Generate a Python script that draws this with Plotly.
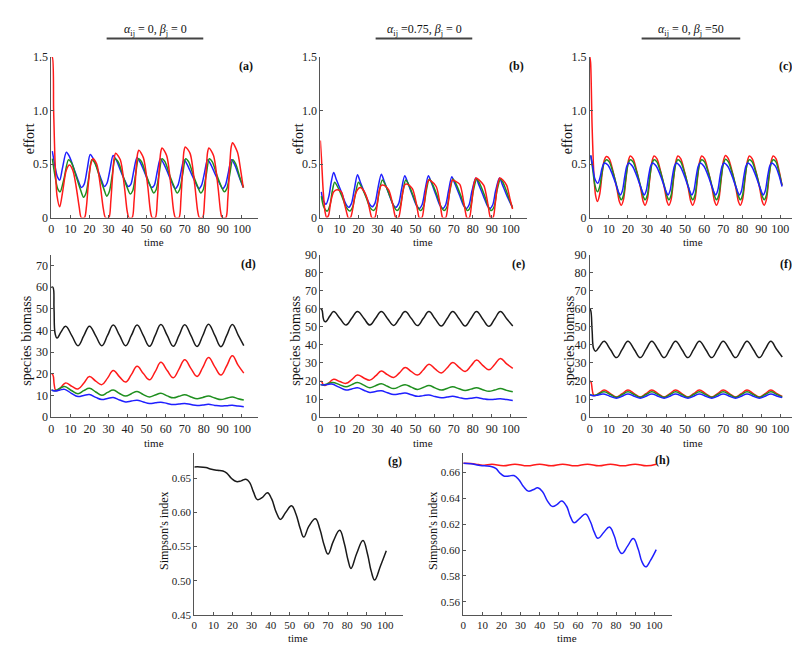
import plotly.graph_objects as go

W, H = 800, 647
FONT = "Liberation Serif, Times New Roman, serif"
RED, GREEN, BLUE, BLACK = "#ff1a1a", "#1f8f1f", "#1f1fff", "#1a1a1a"

# ---------------- panel (a) effort, alpha=0, beta=0 ----------------
a_blue_t = [0.5, 2, 3.2, 4.4, 5.8, 7.9,
            9.5, 12, 14.2, 15.8, 17.2, 18.8, 20.4,
            22, 24.5, 26.5, 27.8, 29.2, 30.8, 32.4,
            34, 36.5, 38.7, 40.3, 41.7, 43.3, 44.9,
            46.5, 49, 51, 52.6, 54, 55.6, 57.2,
            58.8, 61.3, 63.4, 65, 66.4, 68, 69.6,
            71.2, 73.7, 75.8, 77.4, 78.8, 80.4, 82,
            83.6, 86.1, 88.3, 89.9, 91.3, 92.9, 94.5,
            96.1, 98.6, 100.7]
a_blue_v = [0.62, 0.47, 0.38, 0.35, 0.46, 0.61,
            0.57, 0.45, 0.34, 0.28, 0.31, 0.45, 0.59,
            0.55, 0.44, 0.34, 0.29, 0.32, 0.45, 0.58,
            0.54, 0.43, 0.34, 0.29, 0.31, 0.44, 0.56,
            0.52, 0.42, 0.33, 0.28, 0.30, 0.43, 0.55,
            0.51, 0.41, 0.32, 0.27, 0.30, 0.42, 0.54,
            0.50, 0.40, 0.32, 0.27, 0.30, 0.42, 0.54,
            0.50, 0.40, 0.32, 0.27, 0.30, 0.42, 0.54,
            0.50, 0.38, 0.28]
a_green_t = [0.5, 2, 3.3, 4.6, 6.6, 9.0,
             10.6, 13.1, 15.3, 16.9, 18.2, 19.7, 21.2,
             22.8, 25.3, 27.5, 29.1, 30.4, 31.9, 33.5,
             35.1, 37.6, 39.8, 41.4, 42.7, 44.2, 45.8,
             47.4, 49.9, 52.1, 53.7, 55.0, 56.5, 58.1,
             59.7, 62.2, 64.4, 66.0, 67.3, 68.9, 70.5,
             72.1, 74.6, 76.8, 78.4, 79.7, 81.3, 82.9,
             84.5, 87.0, 89.2, 90.8, 92.1, 93.6, 95.2,
             96.8, 99.0, 100.9]
a_green_v = [0.55, 0.38, 0.27, 0.24, 0.36, 0.54,
             0.51, 0.38, 0.26, 0.19, 0.23, 0.38, 0.54,
             0.51, 0.38, 0.27, 0.20, 0.24, 0.39, 0.55,
             0.52, 0.39, 0.28, 0.22, 0.25, 0.40, 0.55,
             0.52, 0.39, 0.29, 0.23, 0.26, 0.40, 0.55,
             0.52, 0.39, 0.29, 0.23, 0.26, 0.40, 0.55,
             0.52, 0.39, 0.29, 0.23, 0.26, 0.40, 0.55,
             0.52, 0.39, 0.29, 0.24, 0.27, 0.40, 0.54,
             0.50, 0.37, 0.28]
a_red_t = [0, 0.5, 1.2, 2.0, 3.0, 4.4, 6.0, 7.8, 9.5, 11.3, 13.0, 14.6, 15.7,
           17.4, 18.4, 19.3, 20.5, 21.8, 23.8, 25.7, 27.3, 28.4,
           30.2, 31.2, 32.1, 33.0, 33.8, 36.2, 38.4, 39.8, 40.7,
           42.4, 43.4, 44.3, 45.2, 45.9, 48.3, 50.6, 52.0, 52.9,
           54.6, 55.6, 56.5, 57.4, 58.1, 60.5, 62.8, 64.2, 65.1,
           67.0, 68.0, 68.8, 69.6, 70.3, 72.8, 75.3, 76.8, 77.7,
           79.4, 80.4, 81.2, 82.0, 82.7, 85.1, 87.5, 88.8, 89.6,
           91.6, 92.6, 93.5, 94.4, 95.1, 97.7, 99.3, 100.7]
a_red_v = [1.5, 1.5, 1.0, 0.5, 0.2, 0.1, 0.25, 0.44, 0.49, 0.44, 0.29, 0.1, 0.0,
           0.0, 0.1, 0.29, 0.48, 0.55, 0.50, 0.30, 0.08, 0.0,
           0.0, 0.15, 0.38, 0.56, 0.60, 0.54, 0.28, 0.06, 0.0,
           0.0, 0.15, 0.40, 0.59, 0.63, 0.56, 0.29, 0.06, 0.0,
           0.0, 0.16, 0.42, 0.61, 0.65, 0.58, 0.29, 0.06, 0.0,
           0.0, 0.17, 0.42, 0.62, 0.66, 0.60, 0.30, 0.06, 0.0,
           0.0, 0.16, 0.42, 0.61, 0.65, 0.58, 0.28, 0.06, 0.0,
           0.0, 0.17, 0.45, 0.66, 0.70, 0.61, 0.45, 0.28]

# ---------------- panel (b) effort, alpha=0.75, beta=0 ----------------
b_blue_t = [0.5, 1.5, 3.0, 4.5, 5.7, 7.0, 8.5, 11.0, 13.3, 14.8, 16.3, 17.8, 19.5,
            21.0, 23.5, 25.7, 27.2, 28.7, 30.2, 32.0, 33.5, 36.0, 38.2, 39.6, 41.1, 42.6, 44.3,
            45.8, 48.3, 50.5, 51.9, 53.4, 54.9, 56.7, 58.2, 60.7, 62.9, 64.3, 65.8, 67.3, 69.0,
            70.5, 73.0, 75.2, 76.6, 78.1, 79.6, 81.6, 83.1, 85.6, 87.7, 89.0, 90.5, 92.0, 94.0,
            95.5, 98.0, 100.7]
b_blue_v = [0.24, 0.16, 0.125, 0.20, 0.33, 0.42, 0.35, 0.24, 0.13, 0.095, 0.13, 0.26, 0.40,
            0.33, 0.22, 0.13, 0.10, 0.135, 0.27, 0.405, 0.34, 0.22, 0.12, 0.095, 0.13, 0.26, 0.39,
            0.33, 0.21, 0.11, 0.085, 0.12, 0.25, 0.39, 0.33, 0.21, 0.11, 0.085, 0.12, 0.25, 0.38,
            0.32, 0.21, 0.11, 0.085, 0.12, 0.25, 0.37, 0.31, 0.20, 0.11, 0.085, 0.12, 0.25, 0.37,
            0.31, 0.20, 0.10]
b_green_t = [0.5, 1.8, 3.6, 5.1, 6.3, 7.5, 9.0, 11.5, 13.8, 15.5, 17.0, 18.5, 20.0,
             21.5, 24.0, 26.2, 27.9, 29.4, 30.9, 32.5, 34.0, 36.5, 38.7, 40.3, 41.8, 43.3, 44.8,
             46.3, 48.8, 51.0, 52.6, 54.1, 55.6, 57.2, 58.7, 61.2, 63.4, 65.0, 66.5, 68.0, 69.6,
             71.1, 73.6, 75.8, 77.3, 78.8, 80.3, 82.1, 83.6, 86.1, 88.2, 89.7, 91.2, 92.7, 94.6,
             96.1, 98.6, 100.9]
b_green_v = [0.20, 0.10, 0.06, 0.12, 0.25, 0.33, 0.29, 0.19, 0.09, 0.06, 0.10, 0.23, 0.33,
             0.29, 0.19, 0.09, 0.065, 0.10, 0.24, 0.35, 0.31, 0.20, 0.10, 0.065, 0.10, 0.24, 0.35,
             0.31, 0.20, 0.10, 0.065, 0.10, 0.25, 0.36, 0.32, 0.21, 0.10, 0.065, 0.10, 0.25, 0.36,
             0.32, 0.21, 0.10, 0.065, 0.10, 0.25, 0.36, 0.32, 0.21, 0.10, 0.065, 0.10, 0.25, 0.36,
             0.32, 0.20, 0.09]
b_red_t = [0, 0.6, 1.5, 2.5, 3.3, 4.3, 5.5, 7.0, 8.7, 11.0, 12.8, 14.2, 14.6, 15.8,
           17.0, 18.0, 19.5, 21.0, 22.8, 24.7, 26.2, 27.0, 28.6,
           29.7, 30.8, 32.0, 33.5, 35.8, 37.8, 39.0, 39.6, 41.0,
           42.2, 43.4, 44.5, 45.8, 48.3, 50.3, 51.4, 51.9, 53.3,
           54.5, 55.7, 56.8, 58.2, 60.8, 62.7, 63.7, 64.2, 65.8,
           67.0, 68.2, 69.3, 70.8, 73.2, 75.2, 76.4, 76.9, 78.2,
           79.4, 80.6, 81.7, 83.4, 85.8, 87.8, 88.8, 89.3, 90.6,
           91.8, 93.0, 94.2, 95.8, 97.8, 99.6, 100.9]
b_red_v = [0.72, 0.55, 0.25, 0.05, 0.0, 0.02, 0.15, 0.24, 0.26, 0.24, 0.12, 0.02, 0.0, 0.0,
           0.08, 0.19, 0.26, 0.28, 0.25, 0.17, 0.05, 0.0, 0.0,
           0.10, 0.24, 0.30, 0.30, 0.26, 0.14, 0.03, 0.0, 0.0,
           0.10, 0.25, 0.31, 0.31, 0.27, 0.14, 0.03, 0.0, 0.0,
           0.12, 0.29, 0.35, 0.34, 0.29, 0.14, 0.03, 0.0, 0.0,
           0.12, 0.28, 0.35, 0.34, 0.31, 0.15, 0.03, 0.0, 0.0,
           0.13, 0.31, 0.37, 0.35, 0.30, 0.14, 0.03, 0.0, 0.0,
           0.13, 0.30, 0.37, 0.35, 0.30, 0.17, 0.08]

# ---------------- panel (c) effort, alpha=0, beta=50 ----------------
c_red_t = [0, 0.4, 1.2, 2.2, 3.0, 4.0, 5.2, 6.4, 7.5, 8.7, 10.2, 12.2, 14.2, 15.5, 16.5,
           17.7, 18.9, 20.1, 21.2, 22.7, 24.7, 26.7, 28.0, 29.0,
           30.2, 31.4, 32.6, 33.7, 35.2, 37.2, 39.2, 40.5, 41.5,
           42.7, 43.9, 45.1, 46.2, 47.7, 49.7, 51.7, 53.0, 54.0,
           55.2, 56.4, 57.6, 58.7, 60.2, 62.2, 64.2, 65.5, 66.5,
           67.7, 68.9, 70.1, 71.2, 72.7, 74.7, 76.7, 78.0, 79.0,
           80.2, 81.4, 82.6, 83.7, 85.2, 87.2, 89.2, 90.5, 91.5,
           92.7, 93.9, 95.1, 96.2, 97.7, 99.2, 100.9]
c_red_v = [1.5, 1.45, 0.85, 0.38, 0.21, 0.15, 0.22, 0.40, 0.53, 0.57, 0.55, 0.43, 0.27, 0.15, 0.115,
           0.17, 0.35, 0.52, 0.575, 0.55, 0.43, 0.27, 0.15, 0.115,
           0.17, 0.35, 0.52, 0.575, 0.55, 0.43, 0.27, 0.15, 0.115,
           0.17, 0.35, 0.52, 0.575, 0.55, 0.43, 0.27, 0.15, 0.115,
           0.17, 0.35, 0.52, 0.575, 0.55, 0.43, 0.27, 0.15, 0.115,
           0.17, 0.35, 0.53, 0.58, 0.55, 0.43, 0.27, 0.15, 0.115,
           0.17, 0.35, 0.52, 0.575, 0.55, 0.43, 0.27, 0.15, 0.115,
           0.17, 0.35, 0.52, 0.575, 0.55, 0.45, 0.30]
c_green_t = [0.5, 1.5, 2.7, 4.0, 5.2, 6.4, 7.5, 8.7, 10.2, 12.2, 14.2, 15.5, 16.5,
             17.7, 18.9, 20.1, 21.2, 22.7, 24.7, 26.7, 28.0, 29.0,
             30.2, 31.4, 32.6, 33.7, 35.2, 37.2, 39.2, 40.5, 41.5,
             42.7, 43.9, 45.1, 46.2, 47.7, 49.7, 51.7, 53.0, 54.0,
             55.2, 56.4, 57.6, 58.7, 60.2, 62.2, 64.2, 65.5, 66.5,
             67.7, 68.9, 70.1, 71.2, 72.7, 74.7, 76.7, 78.0, 79.0,
             80.2, 81.4, 82.6, 83.7, 85.2, 87.2, 89.2, 90.5, 91.5,
             92.7, 93.9, 95.1, 96.2, 97.7, 99.2, 100.9]
c_green_v = [0.58, 0.45, 0.30, 0.24, 0.29, 0.42, 0.51, 0.54, 0.52, 0.42, 0.29, 0.20, 0.165,
             0.21, 0.37, 0.50, 0.54, 0.52, 0.42, 0.29, 0.20, 0.165,
             0.21, 0.37, 0.50, 0.54, 0.52, 0.42, 0.29, 0.20, 0.165,
             0.21, 0.37, 0.50, 0.54, 0.52, 0.42, 0.29, 0.20, 0.165,
             0.21, 0.37, 0.50, 0.54, 0.52, 0.42, 0.29, 0.20, 0.165,
             0.21, 0.37, 0.50, 0.545, 0.52, 0.42, 0.29, 0.20, 0.165,
             0.21, 0.37, 0.50, 0.54, 0.52, 0.42, 0.29, 0.20, 0.165,
             0.21, 0.37, 0.50, 0.54, 0.52, 0.43, 0.30]
c_blue_t = [0.5, 1.5, 2.7, 4.2, 5.3, 6.4, 7.6, 9.5, 11.7, 13.7, 15.0, 16.0,
            17.1, 18.3, 19.4, 20.4, 22.4, 24.4, 26.4, 27.6, 28.5,
            29.6, 30.8, 31.9, 32.9, 34.9, 36.9, 38.9, 40.1, 41.0,
            42.1, 43.3, 44.4, 45.4, 47.4, 49.4, 51.4, 52.6, 53.5,
            54.6, 55.8, 56.9, 57.9, 59.9, 61.9, 63.9, 65.1, 66.0,
            67.1, 68.3, 69.4, 70.4, 72.4, 74.4, 76.4, 77.6, 78.5,
            79.6, 80.8, 81.9, 82.9, 84.9, 86.9, 88.9, 90.1, 91.0,
            92.1, 93.3, 94.4, 95.4, 97.4, 99.2, 100.9]
c_blue_v = [0.58, 0.48, 0.36, 0.32, 0.37, 0.46, 0.51, 0.49, 0.41, 0.31, 0.24, 0.21,
            0.25, 0.38, 0.48, 0.51, 0.48, 0.40, 0.30, 0.24, 0.21,
            0.25, 0.38, 0.48, 0.51, 0.48, 0.40, 0.30, 0.24, 0.21,
            0.25, 0.38, 0.48, 0.51, 0.48, 0.40, 0.30, 0.24, 0.21,
            0.25, 0.38, 0.48, 0.51, 0.48, 0.40, 0.30, 0.24, 0.21,
            0.25, 0.38, 0.48, 0.51, 0.48, 0.40, 0.30, 0.24, 0.21,
            0.25, 0.38, 0.48, 0.51, 0.48, 0.40, 0.30, 0.24, 0.21,
            0.25, 0.38, 0.48, 0.51, 0.48, 0.40, 0.29]

# ---------------- panel (d) biomass, alpha=0, beta=0 ----------------
d_black_t = [0, 0.8, 1.4, 2.0, 3.0, 5.2, 7.5, 10.8, 14, 17, 20, 23.3, 26.5, 29.5, 32.5, 35.8, 39,
             42, 45, 48.3, 51.5, 54.5, 57.5, 60.8, 64, 67, 70, 73.3, 76.5, 79.5, 82.5, 85.8, 89,
             92, 95, 98, 101]
d_black_v = [60, 60, 50, 38.5, 36.5, 39.5, 42, 37.5, 33, 37.5, 42, 37.5, 33, 37.7, 42.5, 37.7, 33,
             37.7, 42.5, 37.6, 32.7, 37.7, 42.8, 37.7, 32.7, 37.7, 42.7, 37.6, 32.6, 37.7, 42.9, 37.7, 32.5,
             37.6, 42.8, 38, 33]
d_red_t = [0, 0.8, 1.5, 2.2, 3.2, 5.3, 7.5, 10.8, 14, 17, 20, 23.3, 26.5, 29.5, 32.5, 35.8, 39,
           42, 45, 48.3, 51.5, 54.5, 57.5, 60.8, 64, 67, 70, 73.3, 76.5, 79.5, 82.5, 85.8, 89,
           92, 95, 98, 101]
d_red_v = [20, 19.5, 15, 12.5, 12.3, 14, 15.8, 14.2, 13, 15.6, 18.7, 16.6, 15, 18, 21.5, 18.6, 16.2,
           19.6, 23.5, 20.1, 17.2, 21, 25.3, 21.5, 18.2, 22.2, 26.5, 22.4, 18.8, 23, 27.5, 23.2, 19.4,
           23.6, 28.3, 24, 20.3]
d_green_t = [0, 2, 4.5, 7, 10.5, 14, 17, 20, 23.3, 26.5, 29.5, 32.5, 35.8, 39, 42, 45, 48.3, 51.5,
             54.5, 57.5, 60.8, 64, 67, 70, 73.3, 76.5, 79.5, 82.5, 85.8, 89, 92, 95, 98, 101]
d_green_v = [12.5, 12.2, 13.3, 14.1, 12.3, 10.8, 12.2, 13.3, 11.6, 10.1, 11.4, 12.5, 10.9, 9.7, 10.8, 11.8, 10.4, 9.3,
             10.2, 11, 9.8, 8.9, 9.6, 10.3, 9.3, 8.5, 9.1, 9.7, 8.8, 8.1, 8.7, 9.3, 8.5, 7.9]
d_blue_t = [0, 2, 4.5, 7, 10.5, 14, 17, 20, 23.3, 26.5, 29.5, 32.5, 35.8, 39, 42, 45, 48.3, 51.5,
            54.5, 57.5, 60.8, 64, 67, 70, 73.3, 76.5, 79.5, 82.5, 85.8, 89, 92, 95, 98, 101]
d_blue_v = [12.5, 12.0, 12.5, 12.8, 11.0, 9.5, 10.0, 10.4, 9.1, 8.1, 8.6, 9.0, 7.9, 7.0, 7.4, 7.8, 7.0, 6.3,
            6.6, 6.9, 6.3, 5.8, 6.0, 6.3, 5.8, 5.4, 5.6, 5.9, 5.4, 5.1, 5.3, 5.5, 5.1, 4.8]

# ---------------- panel (e) biomass, alpha=0.75, beta=0 ----------------
e_black_t = [0, 0.8, 1.5, 2.2, 3.0, 5.0, 7, 10.2, 13.5, 16.5, 19.5, 22.8, 26, 29, 32, 35.2, 38.5,
             41.5, 44.5, 47.8, 51, 54, 57, 60.2, 63.5, 66.5, 69.5, 72.8, 76, 79, 82, 85.2, 88.5,
             91.5, 94.5, 97.8, 101]
e_black_v = [60, 59.5, 55, 53, 53, 56, 58.5, 54.8, 51, 54.8, 58.5, 54.8, 51, 54.8, 58.5, 54.7, 50.8,
             54.6, 58.5, 54.6, 50.7, 54.6, 58.5, 54.5, 50.5, 54.5, 58.5, 54.5, 50.5, 54.5, 58.5, 54.4, 50.3,
             54.4, 58.5, 54.5, 50.5]
e_red_t = [0, 0.8, 1.5, 2.5, 4.5, 7, 10.2, 13.5, 16.5, 19.5, 22.8, 26, 29, 32, 35.2, 38.5,
           41.5, 44.5, 47.8, 51, 54, 57, 60.2, 63.5, 66.5, 69.5, 72.8, 76, 79, 82, 85.2, 88.5,
           91.5, 94.5, 97.8, 101]
e_red_v = [20, 19.5, 18, 17.5, 19, 21, 19.7, 18.7, 20.8, 23.3, 21.7, 20.5, 22.8, 25.5, 23.5, 22,
           24.5, 27.5, 25.2, 23.3, 26.1, 29.3, 26.7, 24.5, 27.2, 30.3, 27.6, 25.3, 28.3, 31.6, 28.7, 26.2,
           29.2, 32.5, 29.5, 27]
e_green_t = [0, 1.5, 3.5, 6.5, 10, 13.5, 16.5, 19.5, 22.8, 26, 29, 32, 35.2, 38.5, 41.5, 44.5, 47.8, 51,
             54, 57, 60.2, 63.5, 66.5, 69.5, 72.8, 76, 79, 82, 85.2, 88.5, 91.5, 94.5, 97.8, 101]
e_green_v = [18, 17.8, 18.4, 19.2, 18.0, 16.8, 18.0, 19.2, 17.7, 16.3, 17.4, 18.5, 17.1, 15.8, 16.9, 18, 16.6, 15.3,
             16.4, 17.5, 16.2, 15, 15.9, 16.8, 15.7, 14.8, 15.5, 16.3, 15.2, 14.3, 15.0, 15.8, 14.8, 14]
e_blue_t = [0, 1.5, 3.5, 6, 9.8, 13.5, 16.5, 19.5, 22.8, 26, 29, 32, 35.2, 38.5, 41.5, 44.5, 47.8, 51,
            54, 57, 60.2, 63.5, 66.5, 69.5, 72.8, 76, 79, 82, 85.2, 88.5, 91.5, 94.5, 97.8, 101]
e_blue_v = [18, 17.8, 18.0, 18.3, 16.6, 15, 15.6, 16.2, 14.9, 13.7, 14.2, 14.6, 13.5, 12.5, 12.9, 13.3, 12.4, 11.5,
            11.9, 12.2, 11.4, 10.7, 11.1, 11.5, 10.8, 10.2, 10.5, 10.8, 10.2, 9.7, 9.9, 10.2, 9.7, 9.2]

# ---------------- panel (f) biomass, alpha=0, beta=50 ----------------
f_black_t = [0, 0.5, 1.2, 2.0, 3.0, 5.2, 7.5, 10.8, 14, 17, 20, 23.3, 26.5, 29.5, 32.5, 35.8, 39,
             42, 45, 48.3, 51.5, 54.5, 57.5, 60.8, 64, 67, 70, 73.3, 76.5, 79.5, 82.5, 85.8, 89,
             92, 95, 98, 101]
f_black_v = [60, 59, 48, 38, 36.5, 39.3, 42, 37.5, 33, 37.5, 42, 37.5, 33, 37.5, 42, 37.5, 33,
             37.5, 42, 37.5, 33, 37.5, 42, 37.5, 33, 37.5, 42, 37.5, 33, 37.5, 42, 37.5, 33,
             37.5, 42, 37.6, 33.3]
f_red_t = [0, 0.6, 1.3, 2.0, 3.0, 5.2, 7.5, 10.8, 14, 17, 20, 23.3, 26.5, 29.5, 32.5, 35.8, 39,
           42, 45, 48.3, 51.5, 54.5, 57.5, 60.8, 64, 67, 70, 73.3, 76.5, 79.5, 82.5, 85.8, 89,
           92, 95, 98, 101]
f_red_v = [20, 19.5, 15, 12.2, 12, 13.5, 15, 13, 11.2, 13, 15, 13, 11.2, 13, 15, 13, 11.2,
           13, 15, 13, 11.2, 13, 15, 13, 11.2, 13, 15, 13, 11.2, 13, 15, 13, 11.2,
           13, 15, 13.2, 11.5]
f_green_t = [0, 2, 4.5, 7.5, 10.8, 14, 17, 20, 23.3, 26.5, 29.5, 32.5, 35.8, 39, 42, 45, 48.3, 51.5,
             54.5, 57.5, 60.8, 64, 67, 70, 73.3, 76.5, 79.5, 82.5, 85.8, 89, 92, 95, 98, 101]
f_green_v = [12.5, 12, 12.8, 14, 12.5, 11, 12.5, 14, 12.5, 11, 12.5, 14, 12.5, 11, 12.5, 14, 12.5, 11,
             12.5, 14, 12.5, 11, 12.5, 14, 12.5, 11, 12.5, 14, 12.5, 11, 12.5, 14, 12.6, 11.2]
f_blue_t = [0, 2, 4.5, 7, 10.5, 14, 17, 20, 23.3, 26.5, 29.5, 32.5, 35.8, 39, 42, 45, 48.3, 51.5,
            54.5, 57.5, 60.8, 64, 67, 70, 73.3, 76.5, 79.5, 82.5, 85.8, 89, 92, 95, 98, 101]
f_blue_v = [12.5, 11.8, 12.3, 12.8, 11.6, 10.5, 11.6, 12.8, 11.6, 10.5, 11.6, 12.8, 11.6, 10.5, 11.6, 12.8, 11.6, 10.5,
            11.6, 12.8, 11.6, 10.5, 11.6, 12.8, 11.6, 10.5, 11.6, 12.8, 11.6, 10.5, 11.6, 12.8, 11.7, 10.8]

# ---------------- panel (g) Simpson's index ----------------
g_black_t = [0, 3, 6, 9, 12, 15, 17, 19.5, 22, 24.5, 27, 29, 31, 33, 35.5, 38.3, 40.5, 42.8, 45.1,
             47.8, 50.9, 53.2, 55.4, 57.3, 60, 63.4, 65.8, 68, 70, 72.8, 76.1, 78.5, 80.5, 82,
             85, 88.3, 90.6, 92.6, 94.4, 97.5, 100.5]
g_black_v = [0.667, 0.667, 0.666, 0.6635, 0.662, 0.661, 0.658, 0.650, 0.6455, 0.6465, 0.649, 0.644, 0.630, 0.619, 0.622, 0.629, 0.620, 0.601, 0.590,
             0.600, 0.610, 0.598, 0.577, 0.564, 0.580, 0.591, 0.575, 0.552, 0.539, 0.558, 0.574, 0.555, 0.530, 0.518,
             0.540, 0.559, 0.540, 0.514, 0.501, 0.522, 0.544]

# ---------------- panel (h) Simpson's index ----------------
h_red_t = [0, 4, 8, 11, 15, 21, 27, 33.5, 40, 46, 52, 58.5, 65, 71, 77, 83.5, 90, 96, 101]
h_red_v = [0.667, 0.6668, 0.666, 0.6655, 0.6662, 0.665, 0.6663, 0.665, 0.6663, 0.665, 0.6663, 0.665,
           0.6663, 0.665, 0.6663, 0.665, 0.6663, 0.665, 0.6663]
h_blue_t = [0, 4, 8, 11, 15, 17, 19.5, 21.5, 24, 26.5, 29, 31.5, 34, 36.5, 39, 41.5, 44, 46.5, 49, 51.5,
            54, 56, 58, 61, 64, 66.5, 68.5, 70.5, 73.5, 76.5, 79, 81, 83, 86, 89, 91.5, 93.5, 95.5, 98, 101]
h_blue_v = [0.667, 0.6667, 0.6655, 0.665, 0.6643, 0.663, 0.659, 0.657, 0.6572, 0.6575, 0.6545, 0.649, 0.6455, 0.6465,
            0.648, 0.645, 0.638, 0.6337, 0.635, 0.6378, 0.634, 0.626, 0.621, 0.6245, 0.6278, 0.622, 0.614, 0.609,
            0.6135, 0.6178, 0.611, 0.6015, 0.5973, 0.603, 0.6089, 0.601, 0.591, 0.587, 0.592, 0.6003]

# ---------------- layout ----------------
x_ticks = list(range(0, 101, 10))
panels = [
    dict(px=(40.5, 248), py=(43, 207), xr=[0, 108.5], yr=[0, 1.5],
         yt=[0, 0.5, 1.0, 1.5], ytt=["0", "0.5", "1.0", "1.5"], fs=12),
    dict(px=(310.5, 518), py=(43, 207), xr=[0, 108.5], yr=[0, 1.5],
         yt=[0, 0.5, 1.0, 1.5], ytt=["0", "0.5", "1.0", "1.5"], fs=12),
    dict(px=(581, 788.5), py=(43, 207), xr=[0, 108.5], yr=[0, 1.5],
         yt=[0, 0.5, 1.0, 1.5], ytt=["0", "0.5", "1.0", "1.5"], fs=12),
    dict(px=(40.5, 248), py=(245, 411), xr=[0, 108.5], yr=[0, 75],
         yt=list(range(0, 71, 10)), ytt=[str(v) for v in range(0, 71, 10)], fs=12),
    dict(px=(310.5, 518), py=(245, 411), xr=[0, 108.5], yr=[0, 90],
         yt=list(range(0, 91, 10)), ytt=[str(v) for v in range(0, 91, 10)], fs=12),
    dict(px=(581, 788.5), py=(245, 411), xr=[0, 108.5], yr=[0, 90],
         yt=list(range(0, 91, 10)), ytt=[str(v) for v in range(0, 91, 10)], fs=12),
    dict(px=(184, 393), py=(448, 613), xr=[0, 109], yr=[0.45, 0.687],
         yt=[0.45, 0.50, 0.55, 0.60, 0.65], ytt=["0.45", "0.50", "0.55", "0.60", "0.65"], fs=11),
    dict(px=(454, 663), py=(448, 613), xr=[0, 109], yr=[0.55, 0.6747],
         yt=[0.56, 0.58, 0.60, 0.62, 0.64, 0.66], ytt=["0.56", "0.58", "0.60", "0.62", "0.64", "0.66"], fs=11),
]

series = [
    (0, a_blue_t, a_blue_v, BLUE), (0, a_green_t, a_green_v, GREEN), (0, a_red_t, a_red_v, RED),
    (1, b_blue_t, b_blue_v, BLUE), (1, b_green_t, b_green_v, GREEN), (1, b_red_t, b_red_v, RED),
    (2, c_red_t, c_red_v, RED), (2, c_green_t, c_green_v, GREEN), (2, c_blue_t, c_blue_v, BLUE),
    (3, d_black_t, d_black_v, BLACK), (3, d_red_t, d_red_v, RED),
    (3, d_green_t, d_green_v, GREEN), (3, d_blue_t, d_blue_v, BLUE),
    (4, e_black_t, e_black_v, BLACK), (4, e_red_t, e_red_v, RED),
    (4, e_green_t, e_green_v, GREEN), (4, e_blue_t, e_blue_v, BLUE),
    (5, f_black_t, f_black_v, BLACK), (5, f_red_t, f_red_v, RED),
    (5, f_green_t, f_green_v, GREEN), (5, f_blue_t, f_blue_v, BLUE),
    (6, g_black_t, g_black_v, BLACK),
    (7, h_red_t, h_red_v, RED), (7, h_blue_t, h_blue_v, BLUE),
]

fig = go.Figure()
for p, t, v, col in series:
    n = "" if p == 0 else str(p + 1)
    smooth = 0.8 if p < 3 else 1.2
    fig.add_trace(go.Scatter(x=t, y=v, mode="lines", xaxis="x" + n, yaxis="y" + n,
                             line=dict(color=col, width=1.5, shape="spline", smoothing=smooth),
                             showlegend=False, hoverinfo="skip"))

AX = "#555555"
lay = {}
for i, p in enumerate(panels):
    n = "" if i == 0 else str(i + 1)
    x0, x1 = p["px"]
    yt, yb = p["py"]
    common = dict(showline=True, linecolor=AX, linewidth=1, ticks="inside", ticklen=3,
                  tickcolor=AX, showgrid=False, zeroline=False,
                  tickfont=dict(family=FONT, size=p["fs"], color="#222"))
    lay["xaxis" + n] = dict(domain=[x0 / W, x1 / W], range=p["xr"], anchor="y" + n,
                            tickvals=x_ticks, ticktext=[str(v) for v in x_ticks], **common)
    lay["yaxis" + n] = dict(domain=[1 - yb / H, 1 - yt / H], range=p["yr"], anchor="x" + n,
                            tickvals=p["yt"], ticktext=p["ytt"], **common)
fig.update_layout(**lay)

ann = []
def txt(x, y, s, size, angle=0, bold=False, xanchor="center"):
    ann.append(dict(x=x / W, y=1 - y / H, xref="paper", yref="paper", text=("<b>%s</b>" % s) if bold else s,
                    showarrow=False, textangle=angle, xanchor=xanchor, yanchor="middle",
                    font=dict(family=FONT, size=size, color="#111")))

# column headings
txt(145, 15, "<i>α</i><sub>ij</sub> = 0, <i>β</i><sub>j</sub> = 0", 12)
txt(415, 15, "<i>α</i><sub>ij</sub> =0.75, <i>β</i><sub>j</sub> = 0", 12)
txt(683, 15, "<i>α</i><sub>ij</sub> = 0, <i>β</i><sub>j</sub> =50", 12)
# x titles
for cx in (144, 414, 685):
    txt(cx, 232, "time", 11)
    txt(cx, 437, "time", 11)
txt(288.5, 637, "time", 11)
txt(558.5, 637, "time", 11)
# y titles
txt(18, 126, "effort", 14, -90)
txt(288, 126, "effort", 14, -90)
txt(558, 126, "effort", 14, -90)
txt(16, 333, "species biomass", 14, -90)
txt(286, 333, "species biomass", 14, -90)
txt(561, 333, "species biomass", 14, -90)
txt(153, 527, "Simpson's index", 12, -90)
txt(423, 527, "Simpson's index", 12, -90)
# panel letters
for (x, y, s) in [(245, 52, "(a)"), (517, 52, "(b)"), (786, 52, "(c)"),
                  (248, 254, "(d)"), (518, 254, "(e)"), (786, 254, "(f)"),
                  (394, 456, "(g)"), (663, 455, "(h)")]:
    txt(x, y, s, 12, bold=True, xanchor="right")

shapes = []
for (x0, x1) in [(96, 193), (366, 463), (633, 732)]:
    shapes.append(dict(type="line", xref="paper", yref="paper", x0=x0 / W, x1=x1 / W,
                       y0=1 - 24 / H, y1=1 - 24 / H, line=dict(color="#444", width=2)))

fig.update_layout(width=W, height=H, margin=dict(l=0, r=0, t=0, b=0),
                  paper_bgcolor="white", plot_bgcolor="white",
                  annotations=ann, shapes=shapes, showlegend=False)
fig.write_html("out.html")
